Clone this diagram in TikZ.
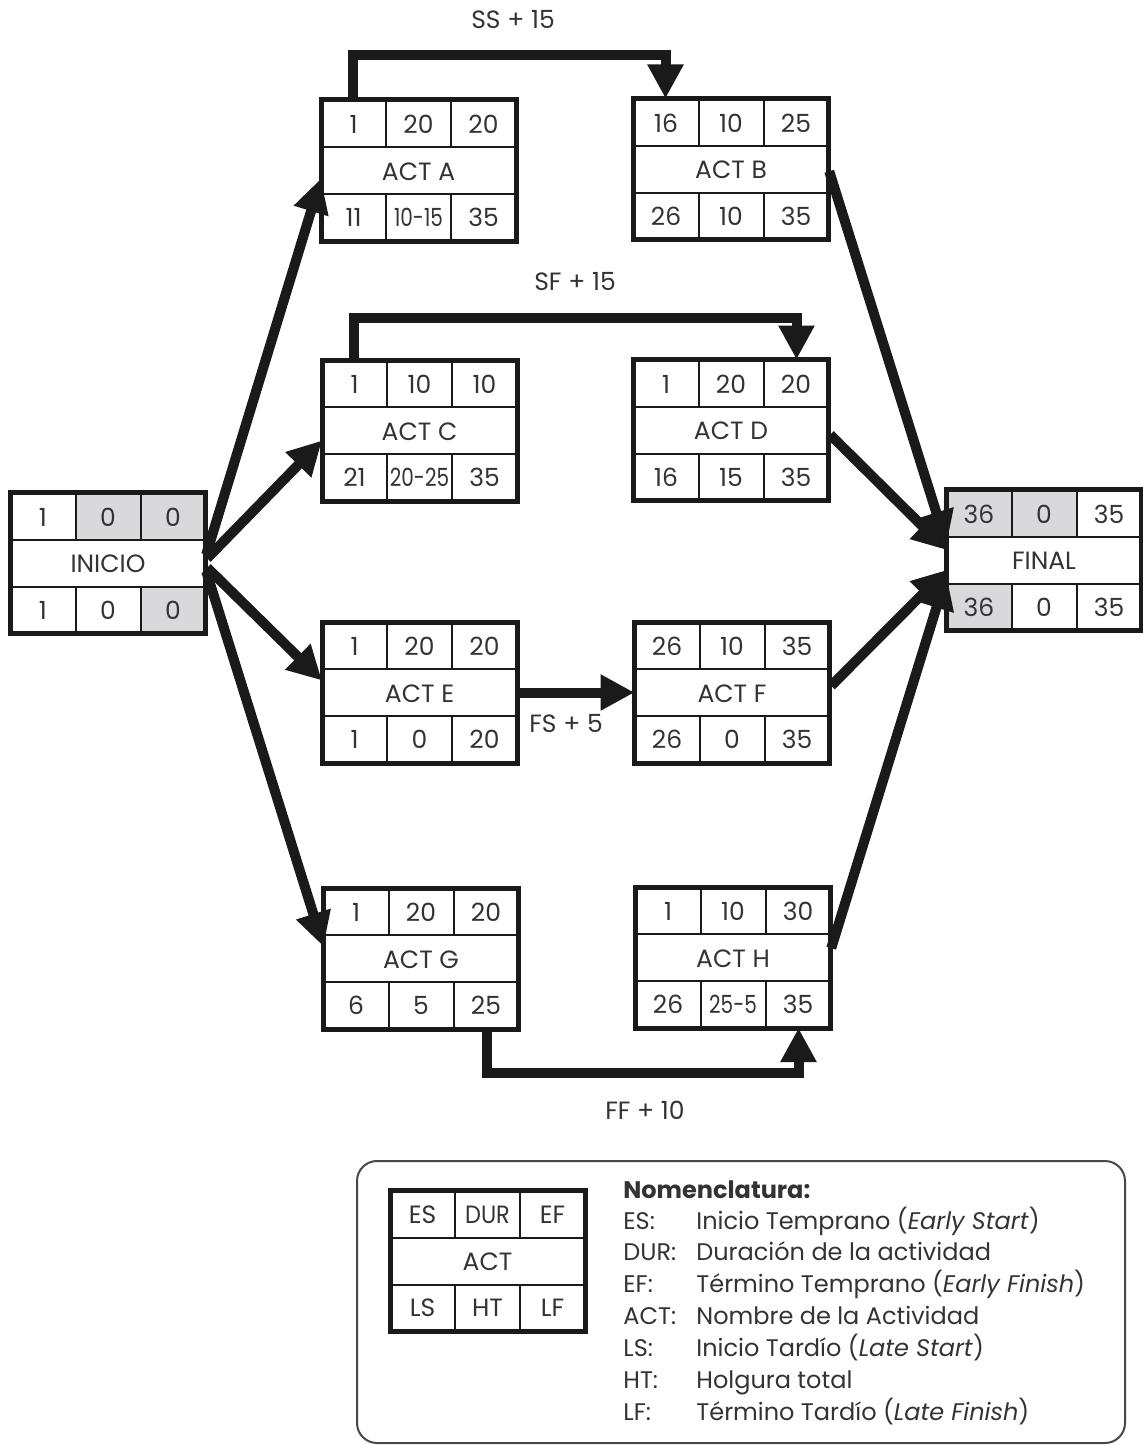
\documentclass[tikz,border=0pt]{standalone}
\usepackage{fontspec}
\setmainfont{Poppins}
\usetikzlibrary{arrows.meta,calc}
\definecolor{ink}{HTML}{1A1A1A}
\definecolor{txt}{HTML}{333333}
\definecolor{greycell}{HTML}{D9D9DC}
\newcommand\narrowtxt[2][0.8]{\scalebox{#1}[1]{#2}}
\tikzset{
  pbox/.style={draw=ink, line width=2.5pt, minimum width=97.5pt, minimum height=70.5pt, inner sep=0pt, outer sep=0pt},
  cellline/.style={draw=ink, line width=1pt},
  celltext/.style={text=txt, font=\fontsize{12.5}{14}\selectfont, inner sep=0pt},
  fat/.style={draw=ink, line width=5pt, -{Triangle[length=17pt,width=17pt]}, shorten <=1.2pt},
  lag/.style={draw=ink, line width=5pt, -{Triangle[length=17pt,width=17pt]}},
  lablag/.style={text=txt, font=\fontsize{12.5}{14}\selectfont, inner sep=0pt},
  legtext/.style={text=txt, font=\fontsize{12}{14}\selectfont, anchor=base west, inner sep=0pt},
  legframe/.style={draw=ink!80, line width=1pt, rounded corners=10pt, minimum width=384pt, minimum height=141pt},
}
\newcommand\pertbox[9]{%
  \node[pbox] (#1) at (#2) {};
  \draw[cellline] ($(#1)+(-97.5,-23.5)$) -- ($(#1)+(97.5,-23.5)$);
  \draw[cellline] ($(#1)+(-97.5,23.5)$) -- ($(#1)+(97.5,23.5)$);
  \draw[cellline] ($(#1)+(-32.5,-70.5)$) -- ($(#1)+(-32.5,-23.5)$);
  \draw[cellline] ($(#1)+(32.5,-70.5)$) -- ($(#1)+(32.5,-23.5)$);
  \draw[cellline] ($(#1)+(-32.5,23.5)$) -- ($(#1)+(-32.5,70.5)$);
  \draw[cellline] ($(#1)+(32.5,23.5)$) -- ($(#1)+(32.5,70.5)$);
  \node[celltext] (#1-es) at ($(#1)+(-65,-46)$) {#3};
  \node[celltext] (#1-dur) at ($(#1)+(0,-46)$) {#4};
  \node[celltext] (#1-ef) at ($(#1)+(65,-46)$) {#5};
  \node[celltext] (#1-act) at ($(#1)+(0,1)$) {#6};
  \node[celltext] (#1-ls) at ($(#1)+(-65,47)$) {#7};
  \node[celltext] (#1-ht) at ($(#1)+(0,47)$) {#8};
  \node[celltext] (#1-lf) at ($(#1)+(65,47)$) {#9};
}
\begin{document}
\begin{tikzpicture}[x=0.5pt,y=-0.5pt]
\fill[white] (0,0) rectangle (1143,1445);
\useasboundingbox (0,0) rectangle (1143,1445);
% grey cells
\fill[greycell] (108-32.5,563-70.5) rectangle (108+97.5,563-23.5);
\fill[greycell] (108+32.5,563+23.5) rectangle (108+97.5,563+70.5);
\fill[greycell] (1044-97.5,560-70.5) rectangle (1044+32.5,560-23.5);
\fill[greycell] (1044-97.5,560+23.5) rectangle (1044-32.5,560+70.5);
% boxes
\pertbox{INICIO}{108,563}{1}{0}{0}{INICIO}{1}{0}{0}
\pertbox{A}{418.5,170.5}{1}{20}{20}{ACT A}{11}{\narrowtxt{10-15}}{35}
\pertbox{B}{731,169}{16}{10}{25}{ACT B}{26}{10}{35}
\pertbox{C}{419.5,430.5}{1}{10}{10}{ACT C}{21}{\narrowtxt{20-25}}{35}
\pertbox{D}{731,430}{1}{20}{20}{ACT D}{16}{15}{35}
\pertbox{E}{419.5,692.5}{1}{20}{20}{ACT E}{1}{0}{20}
\pertbox{F}{732,692.5}{26}{10}{35}{ACT F}{26}{0}{35}
\pertbox{G}{421,958.5}{1}{20}{20}{ACT G}{6}{5}{25}
\pertbox{H}{733,957.5}{1}{10}{30}{ACT H}{26}{\narrowtxt{25-5}}{35}
\pertbox{FINAL}{1044,560}{36}{0}{35}{FINAL}{36}{0}{35}
% fan-out arrows
\draw[fat] ($(INICIO.east)+(0,-6)$) -- ($(A.west)+(0,8)$);
\draw[fat] ($(INICIO.east)+(0,-3)$) -- ($(C.west)+(0,10)$);
\draw[fat] ($(INICIO.east)+(0,3)$) -- ($(E.west)+(0,-12)$);
\draw[fat] ($(INICIO.east)+(0,6)$) -- ($(G.west)+(0,-12)$);
% fan-in arrows
\draw[fat] (B.east) -- ($(FINAL.west)+(0,-15)$);
\draw[fat] ($(D.east)+(0,3)$) -- ($(FINAL.west)+(0,-10)$);
\draw[fat] ($(F.east)+(0,-5)$) -- ($(FINAL.west)+(0,10)$);
\draw[fat] ($(H.east)+(0,-7)$) -- ($(FINAL.west)+(0,15)$);
% lag links
\draw[lag] ($(A.north west)+(32,0)$) -- ++(0,-45) -| ($(B.north west)+(32,0)$);
\draw[lag] ($(C.north west)+(32,0)$) -- ++(0,-42) -| ($(D.north east)+(-32,0)$);
\draw[lag] (E.east) -- (F.west);
\draw[lag] ($(G.south east)+(-32,0)$) -- ++(0,44) -| ($(H.south east)+(-32,0)$);
\node[lablag] (lSS) at (513,20) {SS + 15};
\node[lablag] (lSF) at (575,282) {SF + 15};
\node[lablag] (lFS) at (566,724) {FS + 5};
\node[lablag] (lFF) at (645,1110) {FF + 10};
% legend
\node[legframe] (legend) at (741,1302) {};
\pertbox{LEG}{487.5,1261}{ES}{\narrowtxt[0.9]{DUR}}{EF}{ACT}{LS}{HT}{LF}
\node[legtext] (nom) at (623,1198) {\textbf{Nomenclatura:}};
\node[legtext] (kES) at (623,1229) {ES:};
\node[legtext] (dES) at (696,1229) {Inicio Temprano (\textit{Early Start})};
\node[legtext] (kDUR) at (623,1260) {DUR:};
\node[legtext] (dDUR) at (696,1260) {Duración de la actividad};
\node[legtext] (kEF) at (623,1292) {EF:};
\node[legtext] (dEF) at (696,1292) {Término Temprano (\textit{Early Finish})};
\node[legtext] (kACT) at (623,1324) {ACT:};
\node[legtext] (dACT) at (696,1324) {Nombre de la Actividad};
\node[legtext] (kLS) at (623,1356) {LS:};
\node[legtext] (dLS) at (696,1356) {Inicio Tardío (\textit{Late Start})};
\node[legtext] (kHT) at (623,1388) {HT:};
\node[legtext] (dHT) at (696,1388) {Holgura total};
\node[legtext] (kLF) at (623,1420) {LF:};
\node[legtext] (dLF) at (696,1420) {Término Tardío (\textit{Late Finish})};
\end{tikzpicture}
\end{document}
